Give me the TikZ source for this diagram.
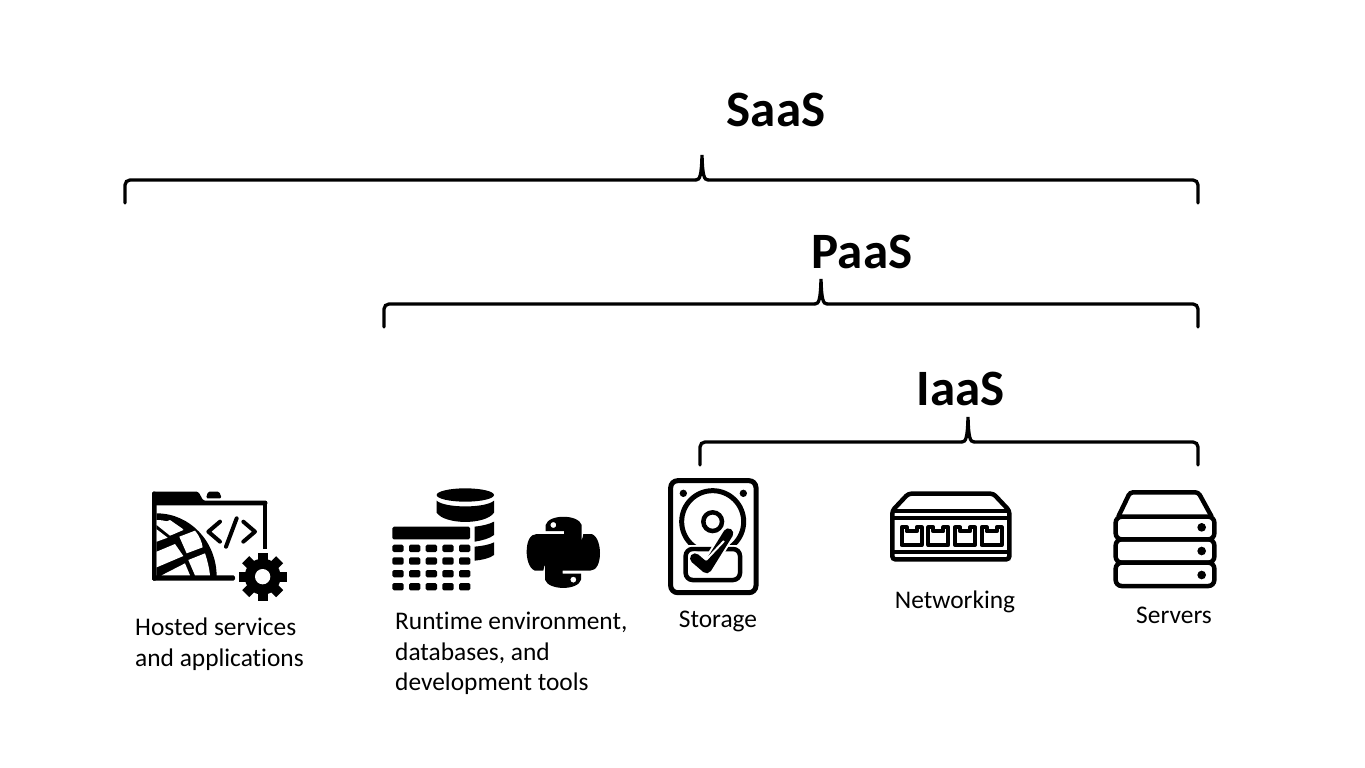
\documentclass[tikz,border=0pt]{standalone}
\usepackage{fontspec}
\setmainfont{Carlito}[Ligatures=NoCommon]
\newcommand{\drawbracket}[3]{%
  \draw[bracket,rounded corners=5pt] (#1) |- ([xshift=-6pt,yshift=-25pt]#2);
  \draw[bracket,rounded corners=5pt] (#3) |- ([xshift=6pt,yshift=-25pt]#2);
  \draw[bracket] ([xshift=-6pt,yshift=-25pt]#2)
    .. controls ([xshift=-2pt,yshift=-25pt]#2) and ([xshift=-0.5pt,yshift=-20pt]#2) .. (#2)
    .. controls ([xshift=0.5pt,yshift=-20pt]#2) and ([xshift=2pt,yshift=-25pt]#2) .. ([xshift=6pt,yshift=-25pt]#2);}
\tikzset{
  bracket/.style={line width=3.3pt,line cap=round},
  tier/.style={font=\fontsize{51}{51}\selectfont\bfseries,inner sep=0pt},
  caption/.style={font=\fontsize{25.4}{30.5}\selectfont,align=left,inner sep=0pt},
  icon/.style={line width=4.5pt,rounded corners=3pt},
  iconfill/.style={fill=black,rounded corners=1.5pt},
}
\begin{document}
\begin{tikzpicture}[x=1pt,y=-1pt]
  \useasboundingbox (0,0) rectangle (1365,768);

  \coordinate (saasL) at (125,203);
  \coordinate (saasT) at (702,155);
  \coordinate (saasR) at (1198,203);
  \coordinate (paasL) at (384,327);
  \coordinate (paasT) at (821,279);
  \coordinate (paasR) at (1198,327);
  \coordinate (iaasL) at (700,465);
  \coordinate (iaasT) at (968,417);
  \coordinate (iaasR) at (1198,465);

  \drawbracket{saasL}{saasT}{saasR}
  \drawbracket{paasL}{paasT}{paasR}
  \drawbracket{iaasL}{iaasT}{iaasR}

  \node[tier] (saas) at (776,110) {SaaS};
  \node[tier] (paas) at (862,252) {PaaS};
  \node[tier] (iaas) at (961,389) {IaaS};

  \node[caption,anchor=north west] (hosted) at (135,618) {Hosted services\\and applications};
  \node[caption,anchor=north west] (runtime) at (395,612) {Runtime environment,\\databases, and\\development tools};
  \node[caption] (storage) at (718,621) {Storage};
  \node[caption] (networking) at (955,602) {Networking};
  \node[caption] (servers) at (1174,615) {Servers};

  % folder with globe and gear
  \begin{scope}[shift={(120,470)},scale=1/3]
    \fill[iconfill] (96,65) -- (235,65) -- (250,92) -- (442,92) -- (442,106) -- (96,106) -- cycle;
    \fill[iconfill] (258,85) -- (264,65) -- (298,65) -- (305,85) -- cycle;
    \fill (428,92) rectangle (442,238);
    \fill[iconfill] (96,65) rectangle (110,332);
    \fill[iconfill] (96,316) rectangle (345,332);
    \fill (110,320) -- (110,130) .. controls (210,130) and (290,215) .. (290,320) -- cycle;
    \fill[white] (110,150) .. controls (135,150) and (165,158) .. (190,180) -- (150,197) -- (110,165) -- cycle;
    \fill[white] (110,178) -- (143,203) -- (110,215) -- cycle;
    \fill[white] (150,150) -- (190,178) -- (158,193) -- (125,160) -- cycle;
    \fill[white] (178,200) -- (225,182) .. controls (240,200) and (245,215) .. (248,232) -- (200,250) -- cycle;
    \fill[white] (110,245) -- (165,222) -- (190,258) -- (110,292) -- cycle;
    \fill[white] (205,270) -- (255,250) .. controls (262,270) and (268,295) .. (270,316) -- (225,316) -- cycle;
    \fill[white] (125,316) -- (195,280) -- (210,316) -- cycle;
    \draw[line width=4pt,line cap=round,line join=round] (300,155) -- (265,185) -- (300,215);
    \draw[line width=4pt,line cap=round] (350,145) -- (318,230);
    \draw[line width=4pt,line cap=round,line join=round] (370,155) -- (405,185) -- (370,215);
    \fill[white] (428,320) circle[radius=82];
    \foreach \a in {0,45,...,315}
      \draw[line width=10pt] (428,320) ++(\a:45) -- ++(\a:27);
    \fill (428,320) circle[radius=54];
    \fill[white] (428,320) circle[radius=23];
  \end{scope}

  % table and database cylinder
  \begin{scope}[shift={(380,470)},scale=1/3]
    \fill (256,75) ellipse[x radius=86,y radius=20];
    \fill (170,92) .. controls (195,115) and (317,115) .. (342,92) -- (342,128)
      .. controls (317,165) and (195,165) .. (170,128) -- cycle;
    \fill (284,170) .. controls (305,168) and (330,162) .. (342,155) -- (342,195)
      .. controls (330,205) and (305,212) .. (284,215) -- cycle;
    \fill (284,230) .. controls (305,228) and (330,224) .. (342,217) -- (342,255)
      .. controls (330,265) and (305,270) .. (284,272) -- cycle;
    \fill[iconfill] (37,170) rectangle (270,208);
    \foreach \x in {37,87,137,187,237}
      \foreach \y in {224,262,300,339}
        \fill[iconfill] (\x,\y) rectangle ++(34,22);
  \end{scope}

  % python logo
  \begin{scope}[shift={(380,470)},scale=1/3]
    \foreach \r in {0,180} {
      \begin{scope}[rotate around={\r:(550,247)}]
        \fill[even odd rule] (497,165) .. controls (505,132) and (595,132) .. (605,165) -- (605,235)
          .. controls (605,255) and (590,268) .. (570,268) -- (525,268)
          .. controls (505,268) and (490,285) .. (490,302) -- (465,302)
          .. controls (445,295) and (440,262) .. (440,245) .. controls (440,215) and (450,192) .. (470,192)
          -- (552,192) -- (552,183) -- (497,183) -- cycle
          (520,165) circle[radius=9];
      \end{scope}
    }
  \end{scope}

  % hard disk
  \begin{scope}[shift={(650,465)},scale=1/3]
    \draw[line width=5pt,rounded corners=7pt] (62,47) rectangle (318,383);
    \fill (100,85) circle[radius=11];
    \fill (280,85) circle[radius=11];
    \draw[line width=5pt] (188,170) circle[radius=93];
    \draw[line width=4.5pt] (188,170) circle[radius=28];
    \fill[white] (95,240) rectangle (285,350);
    \draw[icon,rounded corners=7pt] (107,252) rectangle (270,345);
    \draw[line width=14pt,white,line cap=round,line join=round] (135,280) -- (170,310) -- (235,205);
    \draw[line width=10pt,line cap=round,line join=round] (135,280) -- (170,310) -- (235,205);
    \draw[line width=2pt,white] (168,285) -- (222,228);
  \end{scope}

  % network switch
  \begin{scope}[shift={(870,470)},scale=1/3]
    \draw[icon] (67,122) -- (115,71) -- (370,71) -- (418,122) -- (418,268) -- (67,268) -- cycle;
    \draw[line width=4pt] (67,122) -- (418,122);
    \draw[line width=4pt] (67,145) -- (418,145);
    \draw[line width=4pt] (67,247) -- (418,247);
    \foreach \x in {95,175,255,335}
      \draw[line width=4pt,line join=round] (\x,172) -- (\x,225) -- ++(60,0) -- ++(0,-53) -- ++(-15,0)
        -- ++(0,12) -- ++(-30,0) -- ++(0,-12) -- cycle;
  \end{scope}

  % server stack
  \begin{scope}[shift={(870,470)},scale=1/3]
    \draw[icon] (745,140) -- (780,67) -- (985,67) -- (1025,140);
    \draw[icon,rounded corners=6pt] (737,140) rectangle (1033,208);
    \draw[icon,rounded corners=6pt] (737,208) rectangle (1033,278);
    \draw[icon,rounded corners=6pt] (737,278) rectangle (1033,348);
    \fill (995,172) circle[radius=13];
    \fill (995,243) circle[radius=13];
    \fill (995,315) circle[radius=13];
  \end{scope}
\end{tikzpicture}
\end{document}
